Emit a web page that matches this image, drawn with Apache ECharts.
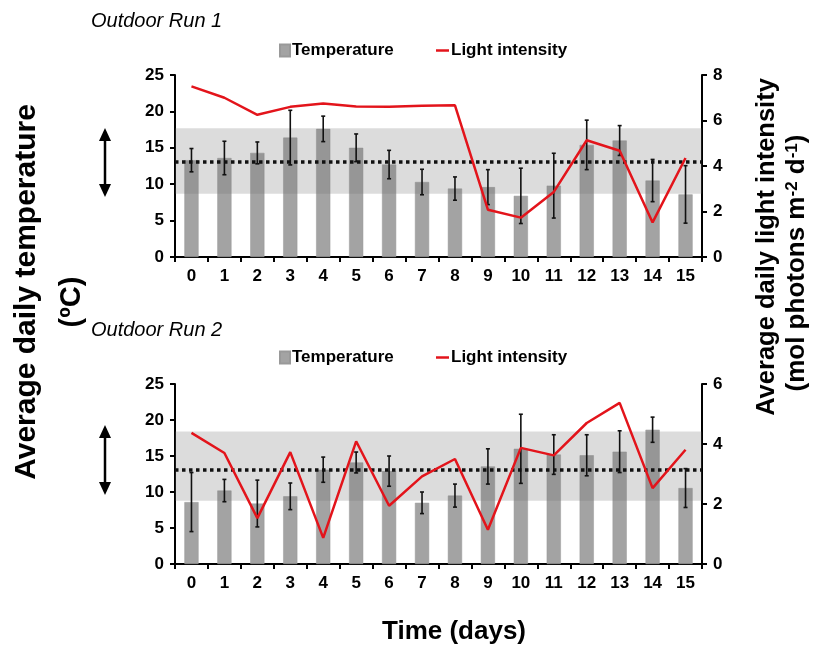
<!DOCTYPE html>
<html>
<head>
<meta charset="utf-8">
<script src="https://cdn.jsdelivr.net/npm/echarts@6/dist/echarts.min.js"></script>
<style>
  html, body { margin: 0; padding: 0; background: #fff; }
  #main { width: 827px; height: 654px; }
</style>
</head>
<body>
<div id="main"></div>
<script>
// days on the x axis
const days = ['0','1','2','3','4','5','6','7','8','9','10','11','12','13','14','15'];

// Outdoor Run 1
const temp1 = [13.3, 13.6, 14.3, 16.4, 17.6, 15.0, 12.7, 10.3, 9.4, 9.6, 8.4, 9.8, 15.4, 16.0, 10.5, 8.6];
const tempErr1 = [1.6, 2.3, 1.5, 3.75, 1.75, 1.9, 1.95, 1.75, 1.6, 2.4, 3.8, 4.45, 3.4, 2.05, 2.9, 3.95];
const light1 = [7.5, 7.0, 6.25, 6.6, 6.75, 6.62, 6.6, 6.65, 6.67, 2.08, 1.73, 2.86, 5.13, 4.67, 1.52, 4.35];
const band1 = [8.7, 17.7];
const mean1 = 13.15;

// Outdoor Run 2
const temp2 = [8.6, 10.2, 8.4, 9.4, 13.1, 14.1, 12.9, 8.5, 9.5, 13.55, 16.0, 15.2, 15.1, 15.6, 18.65, 10.55];
const tempErr2 = [4.1, 1.55, 3.25, 1.85, 1.75, 1.45, 2.1, 1.5, 1.6, 2.45, 4.8, 2.75, 2.85, 2.9, 1.75, 2.7];
const light2 = [4.37, 3.7, 1.53, 3.73, 0.87, 4.09, 1.94, 2.92, 3.5, 1.14, 3.87, 3.62, 4.7, 5.37, 2.53, 3.81];
const band2 = [8.8, 18.4];
const mean2 = 13.1;

const FONT = '"Liberation Sans", Arial, sans-serif';
const BAR_COLOR = '#a3a3a3';
const RED = '#e3141b';

const chart = echarts.init(document.getElementById('main'));

function errData(vals, errs) {
    return vals.map((v, i) => [i, v - errs[i], v + errs[i]]);
}

function renderErr(params, api) {
    const x = api.value(0);
    const lo = api.coord([x, api.value(1)]);
    const hi = api.coord([x, api.value(2)]);
    const cap = 2;
    const style = { stroke: '#111', lineWidth: 1.6 };
    return {
        type: 'group',
        children: [
            { type: 'line', shape: { x1: hi[0], y1: hi[1], x2: lo[0], y2: lo[1] }, style: style },
            { type: 'line', shape: { x1: hi[0] - cap, y1: hi[1], x2: hi[0] + cap, y2: hi[1] }, style: style },
            { type: 'line', shape: { x1: lo[0] - cap, y1: lo[1], x2: lo[0] + cap, y2: lo[1] }, style: style }
        ]
    };
}

const axisLine = { lineStyle: { color: '#000', width: 2 } };
const axisTick = { show: true, length: 5, lineStyle: { color: '#000', width: 2 } };
const axisLabel = { color: '#000', fontSize: 17, fontWeight: 'bold', fontFamily: FONT };

function xAxisFor(gi) {
    return {
        type: 'category', gridIndex: gi, data: days,
        axisLine: axisLine, axisTick: axisTick,
        axisLabel: Object.assign({ margin: 11, interval: 0 }, axisLabel)
    };
}
function yAxisFor(gi, max, interval, pos) {
    return {
        type: 'value', gridIndex: gi, min: 0, max: max, interval: interval, position: pos,
        axisLine: Object.assign({ show: true }, axisLine), axisTick: axisTick,
        axisLabel: Object.assign({ margin: 11 }, axisLabel),
        splitLine: { show: false }
    };
}

function seriesFor(gi, temp, errs, light, band, mean) {
    const xi = gi, yl = gi * 2, yr = gi * 2 + 1;
    return [
        {
            name: 'Temperature', type: 'bar', xAxisIndex: xi, yAxisIndex: yl,
            data: temp, barWidth: '43%', z: 2,
            itemStyle: { color: BAR_COLOR, borderColor: '#999', borderWidth: 0.5 }
        },
        {
            name: 'band', type: 'line', xAxisIndex: xi, yAxisIndex: yl, data: [], z: 3,
            markArea: {
                silent: true, z: 3,
                itemStyle: { color: 'rgba(110,110,110,0.24)' },
                data: [[{ yAxis: band[0], x: 175 }, { yAxis: band[1], x: 702 }]]
            },
            markLine: {
                silent: true, symbol: 'none', z: 5,
                label: { show: false },
                lineStyle: { color: '#111', width: 3.5, type: [3.5, 3.5] },
                data: [[{ yAxis: mean, x: 175 }, { yAxis: mean, x: 702 }]]
            }
        },
        {
            name: 'err', type: 'custom', xAxisIndex: xi, yAxisIndex: yl, z: 4,
            renderItem: renderErr, data: errData(temp, errs)
        },
        {
            name: 'Light intensity', type: 'line', xAxisIndex: xi, yAxisIndex: yr,
            data: light, symbol: 'none', z: 6,
            lineStyle: { color: RED, width: 2.5 }, itemStyle: { color: RED }
        }
    ];
}

function legendsFor(top) {
    const ts = { color: '#000', fontSize: 17, fontWeight: 'bold', fontFamily: FONT, padding: [0, 0, 0, -3] };
    return [
        { left: 274, top: top, itemWidth: 10, itemHeight: 12, data: [{ name: 'Temperature', icon: 'rect' }], textStyle: ts },
        { left: 431, top: top, itemWidth: 13, itemHeight: 2.5, data: [{ name: 'Light intensity', icon: 'rect' }], textStyle: ts }
    ];
}

function arrow(x, y1, y2) {
    return {
        type: 'group',
        children: [
            { type: 'line', shape: { x1: x, y1: y1 + 8, x2: x, y2: y2 - 8 }, style: { stroke: '#000', lineWidth: 2.5 } },
            { type: 'polygon', shape: { points: [[x, y1], [x - 6, y1 + 13], [x + 6, y1 + 13]] }, style: { fill: '#000' } },
            { type: 'polygon', shape: { points: [[x, y2], [x - 6, y2 - 13], [x + 6, y2 - 13]] }, style: { fill: '#000' } }
        ]
    };
}

const titleStyle = { fontSize: 20, fontStyle: 'italic', fontWeight: 'normal', fontFamily: FONT, color: '#000' };

const option = {
    animation: false,
    title: [
        { text: 'Outdoor Run 1', left: 86, top: 6, textStyle: titleStyle },
        { text: 'Outdoor Run 2', left: 86, top: 315, textStyle: titleStyle }
    ],
    legend: legendsFor(37).concat(legendsFor(344)),
    grid: [
        { left: 175, right: 125, top: 75, height: 182 },
        { left: 175, right: 125, top: 384, height: 180 }
    ],
    xAxis: [xAxisFor(0), xAxisFor(1)],
    yAxis: [
        yAxisFor(0, 25, 5, 'left'), yAxisFor(0, 8, 2, 'right'),
        yAxisFor(1, 25, 5, 'left'), yAxisFor(1, 6, 2, 'right')
    ],
    series: seriesFor(0, temp1, tempErr1, light1, band1, mean1)
        .concat(seriesFor(1, temp2, tempErr2, light2, band2, mean2)),
    graphic: [
        {
            type: 'text', x: 27, y: 292, rotation: Math.PI / 2,
            style: { text: 'Average daily temperature', fontSize: 30, fontWeight: 'bold', fontFamily: FONT, fill: '#000', align: 'center', verticalAlign: 'middle' }
        },
        {
            type: 'text', x: 72, y: 302, rotation: Math.PI / 2,
            style: { text: '(ºC)', fontSize: 29, fontWeight: 'bold', fontFamily: FONT, fill: '#000', align: 'center', verticalAlign: 'middle' }
        },
        {
            type: 'text', x: 767, y: 247, rotation: Math.PI / 2,
            style: { text: 'Average daily light intensity', fontSize: 25.5, fontWeight: 'bold', fontFamily: FONT, fill: '#000', align: 'center', verticalAlign: 'middle' }
        },
        {
            type: 'text', x: 797, y: 263, rotation: Math.PI / 2,
            style: {
                text: '(mol photons m{sup|-2} d{sup|-1})', fontSize: 26, fontWeight: 'bold', fontFamily: FONT, fill: '#000', align: 'center', verticalAlign: 'middle',
                rich: { sup: { fontSize: 17, fontWeight: 'bold', fontFamily: FONT, fill: '#000', verticalAlign: 'top', padding: [0, 0, 10, 0] } }
            }
        },
        {
            type: 'text', x: 454, y: 632,
            style: { text: 'Time (days)', fontSize: 26, fontWeight: 'bold', fontFamily: FONT, fill: '#000', align: 'center', verticalAlign: 'middle' }
        },
        arrow(105, 128, 197),
        arrow(105, 425, 495)
    ]
};

chart.setOption(option);
</script>
</body>
</html>
